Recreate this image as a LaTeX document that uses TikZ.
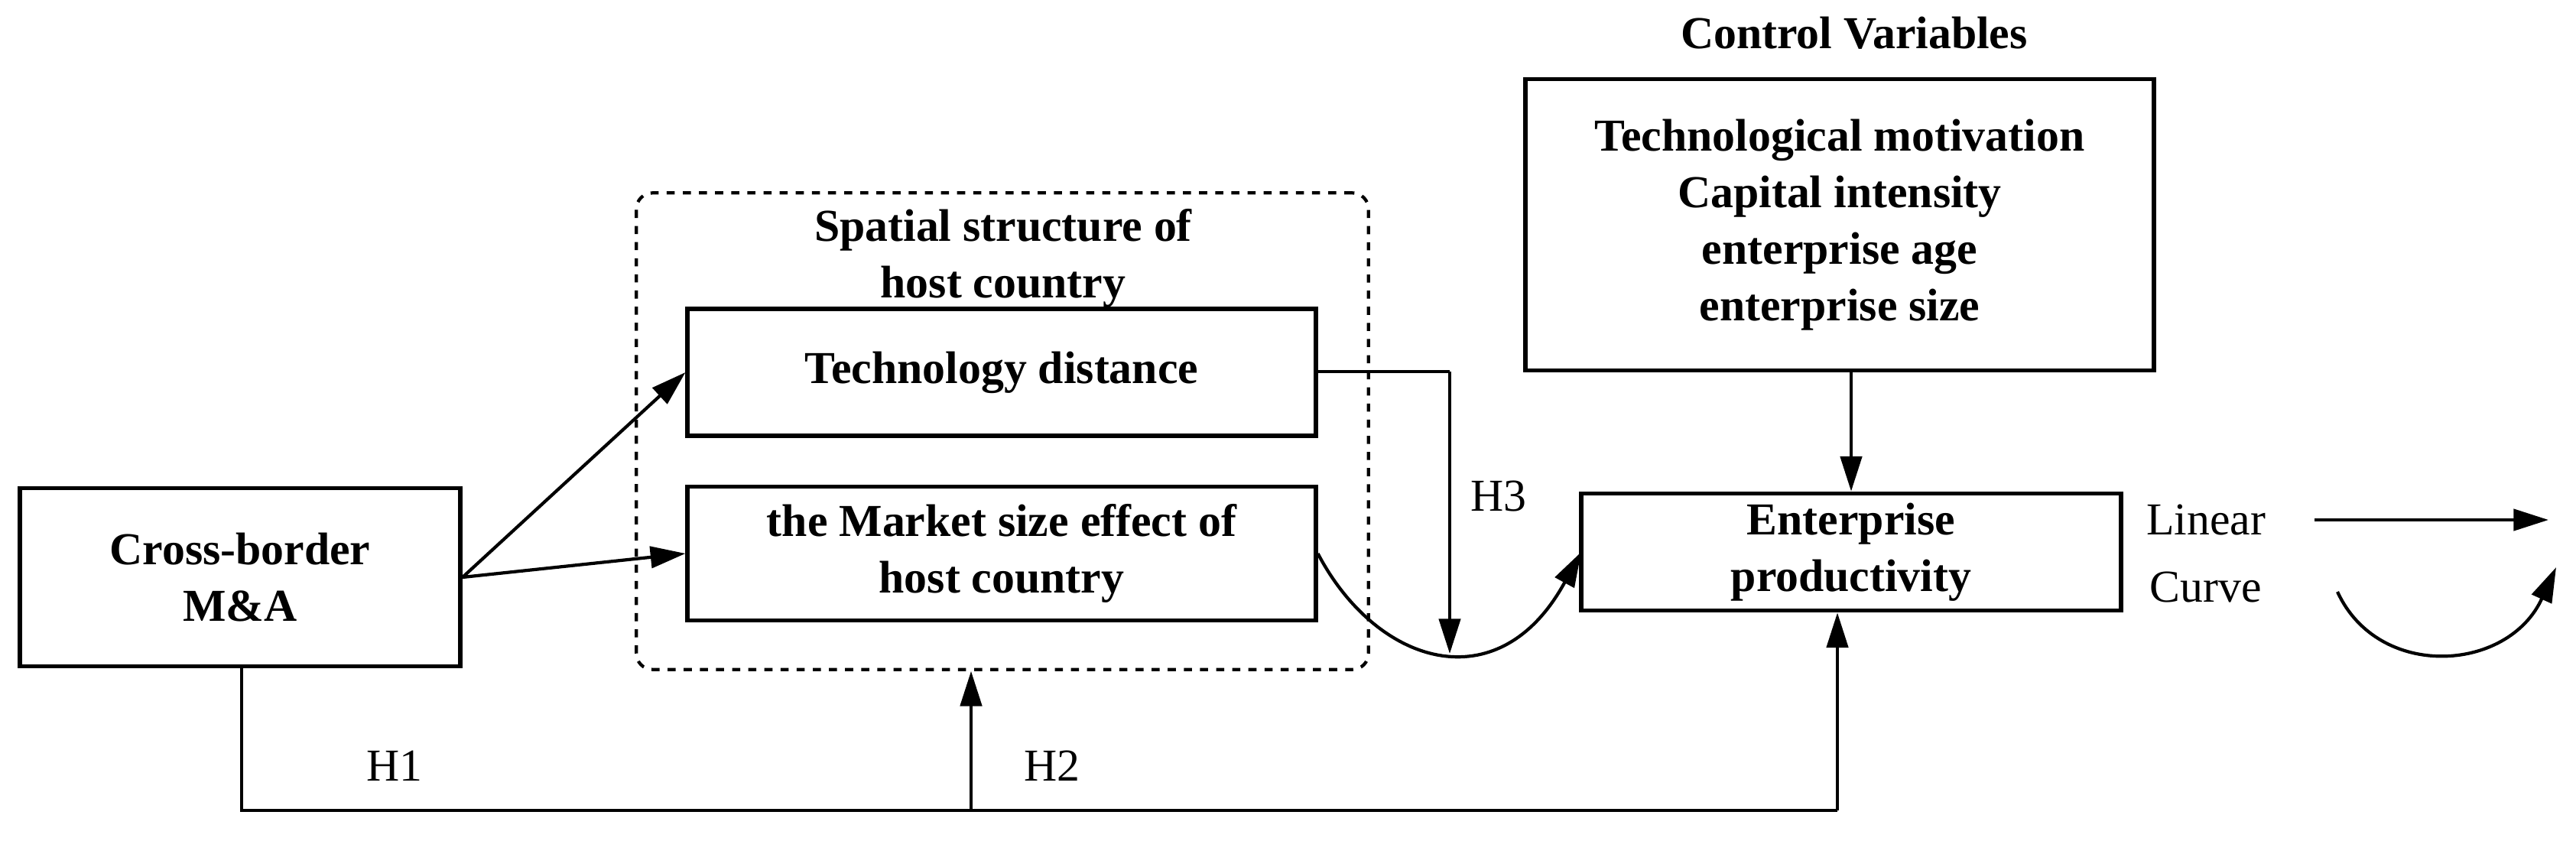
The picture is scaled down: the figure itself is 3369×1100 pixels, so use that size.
\documentclass[tikz,border=0pt]{standalone}
\usepackage{fontspec}
\setmainfont{Liberation Serif}
\usetikzlibrary{arrows.meta,positioning}
\begin{document}
\begin{tikzpicture}[x=0.01cm,y=-0.01cm,>={Triangle[length=13pt,width=8pt]},line width=1.2pt,
		box/.style={rectangle,draw=black,line width=1.6pt,align=center,font=\fontsize{17}{21}\selectfont\bfseries,inner sep=0pt},
		lbl/.style={font=\fontsize{17}{21}\selectfont}]
		\useasboundingbox (0,0) rectangle (3369,1100);
		\node[box,minimum width=5.76cm,minimum height=2.33cm] (cb)  at (314,755)  {Cross-border\\M\&A};
		\node[box,minimum width=8.21cm,minimum height=1.66cm] (td)  at (1310,487) {Technology distance};
		\node[box,minimum width=8.21cm,minimum height=1.75cm] (ms)  at (1310,724) {the Market size effect of\\host country};
		\node[draw,dashed,rounded corners=6pt,line width=1.2pt,minimum width=9.57cm,minimum height=6.23cm] (ss) at (1311,564) {};
		\node[font=\fontsize{17}{21}\selectfont\bfseries,align=center] (sst) at (1312,338) {Spatial structure of\\host country};
		\node[box,minimum width=8.22cm,minimum height=3.81cm] (cv)  at (2406,294) {Technological motivation\\Capital intensity\\enterprise age\\enterprise size};
		\node[font=\fontsize{17}{21}\selectfont\bfseries] (cvt) at (2425,43) {Control Variables};
		\node[box,minimum width=7.06cm,minimum height=1.53cm] (ep)  at (2421,722) {Enterprise\\productivity};
		\node[lbl] (lin) at (2885,680) {Linear};
		\node[lbl] (cur) at (2885,768) {Curve};
		\node[lbl] (h1) at (516,1002) {H1};
		\node[lbl] (h2) at (1376,1002) {H2};
		\node[lbl] (h3) at (1960,649) {H3};
		\coordinate (bl) at (316,1060);
		\coordinate (br) at (2403,1060);
		\coordinate (h2s) at (1270,1060);
		\coordinate (h3c) at (1896,486);
		\coordinate (h3e) at (1896,855);
		\coordinate (la) at (3027,680);
		\coordinate (lb) at (3333,680);
		\coordinate (ca) at (3057,774);
		\coordinate (cb2) at (3343,742);
		\coordinate (epin) at (2068,722);

		\draw[->] (cb.east) -- (td.west);
		\draw[->] (cb.east) -- (ms.west);
		\draw[->] (cv.south -| ep.north) -- (ep.north);
		\draw (cb.south -| bl) -- (bl) -- (br);
		\draw[->] (br) -- (ep.south -| br);
		\draw[->] (h2s) -- (h2s |- ss.south);
		\draw (td.east |- h3c) -- (h3c);
		\draw[->] (h3c) -- (h3e);
		\draw[->] (ms.east) .. controls (1800,870) and (1960,920) .. (epin);
		\draw[->] (la) -- (lb);
		\draw[->] (ca) .. controls (3110,890) and (3280,880) .. (cb2);
\end{tikzpicture}
\end{document}
